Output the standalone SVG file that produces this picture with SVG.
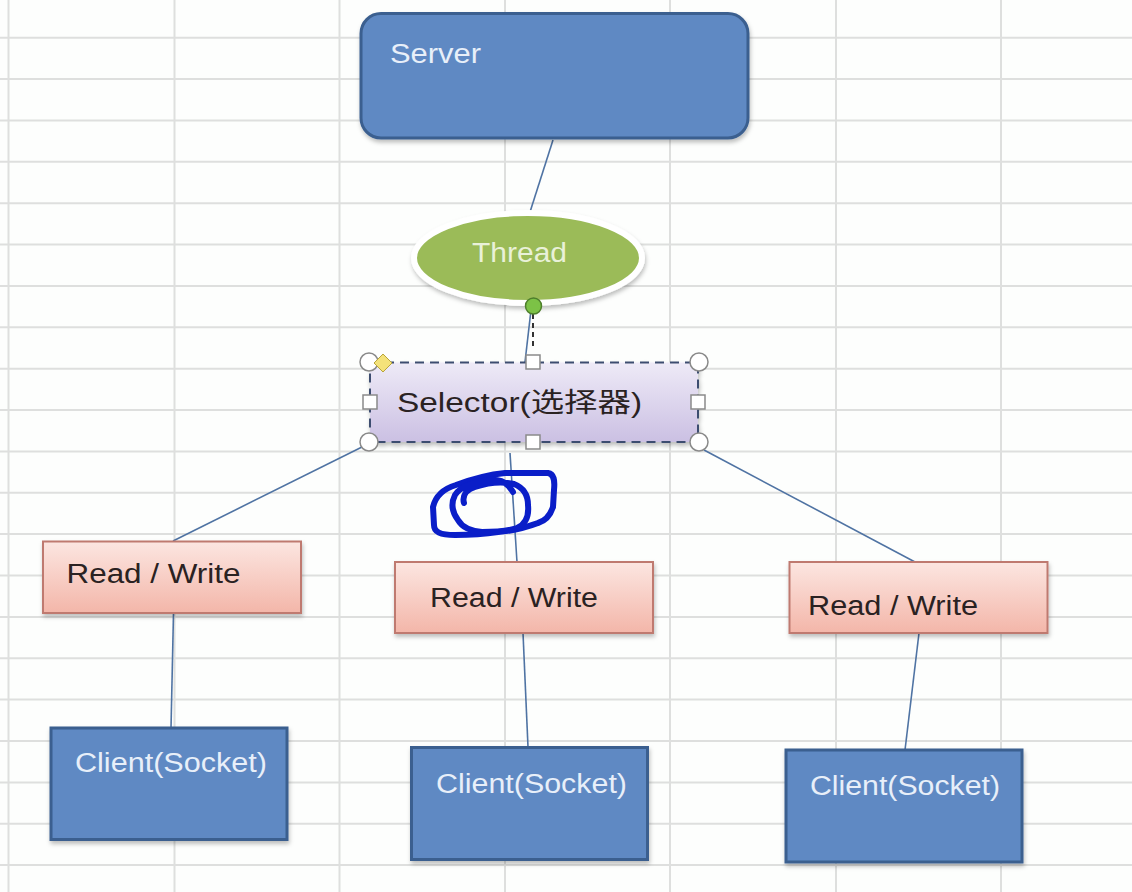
<svg xmlns="http://www.w3.org/2000/svg" width="1132" height="892" viewBox="0 0 1132 892">
<defs>
<style>
.grid line{stroke:#dedfde;stroke-width:2}
.blue{fill:#5f89c3;stroke:#3b5f8f;stroke-width:3}
.pink{fill:url(#pinkG);stroke:#bf7a70;stroke-width:2}
.conn{stroke:#4f73a3;stroke-width:1.6;fill:none}
.lt{font-family:"Liberation Sans",Arial,sans-serif;font-size:27px;fill:#e8eff9}
.dk{font-family:"Liberation Sans",Arial,sans-serif;font-size:27px;fill:#2a2222}
.hc{fill:#fff;stroke:#8a8a8a;stroke-width:1.5}
</style>
<linearGradient id="pinkG" x1="0" y1="0" x2="0" y2="1">
<stop offset="0" stop-color="#fce6e1"/>
<stop offset="1" stop-color="#f3b6a9"/>
</linearGradient>
<linearGradient id="lavG" x1="0" y1="0" x2="0" y2="1">
<stop offset="0" stop-color="#eeeaf7"/>
<stop offset="1" stop-color="#cbc0e3"/>
</linearGradient>
<filter id="sh" x="-10%" y="-10%" width="120%" height="130%">
<feDropShadow dx="1" dy="3" stdDeviation="2" flood-color="#000" flood-opacity="0.25"/>
</filter>
</defs>
<rect width="1132" height="892" fill="#fdfefd"/>
<g class="grid">
<line x1="8.5" y1="0" x2="8.5" y2="892"/>
<line x1="174.5" y1="0" x2="174.5" y2="892"/>
<line x1="339.5" y1="0" x2="339.5" y2="892"/>
<line x1="505" y1="0" x2="505" y2="892"/>
<line x1="670" y1="0" x2="670" y2="892"/>
<line x1="836" y1="0" x2="836" y2="892"/>
<line x1="1001" y1="0" x2="1001" y2="892"/>
<line x1="0" y1="37.7" x2="1132" y2="37.7"/>
<line x1="0" y1="79.1" x2="1132" y2="79.1"/>
<line x1="0" y1="120.4" x2="1132" y2="120.4"/>
<line x1="0" y1="161.8" x2="1132" y2="161.8"/>
<line x1="0" y1="203.2" x2="1132" y2="203.2"/>
<line x1="0" y1="244.5" x2="1132" y2="244.5"/>
<line x1="0" y1="285.9" x2="1132" y2="285.9"/>
<line x1="0" y1="327.3" x2="1132" y2="327.3"/>
<line x1="0" y1="368.7" x2="1132" y2="368.7"/>
<line x1="0" y1="410" x2="1132" y2="410"/>
<line x1="0" y1="451.4" x2="1132" y2="451.4"/>
<line x1="0" y1="492.8" x2="1132" y2="492.8"/>
<line x1="0" y1="534.1" x2="1132" y2="534.1"/>
<line x1="0" y1="575.5" x2="1132" y2="575.5"/>
<line x1="0" y1="616.9" x2="1132" y2="616.9"/>
<line x1="0" y1="658.2" x2="1132" y2="658.2"/>
<line x1="0" y1="699.6" x2="1132" y2="699.6"/>
<line x1="0" y1="741" x2="1132" y2="741"/>
<line x1="0" y1="782.4" x2="1132" y2="782.4"/>
<line x1="0" y1="823.7" x2="1132" y2="823.7"/>
<line x1="0" y1="865.1" x2="1132" y2="865.1"/>
</g>
<g id="connectors">
<line class="conn" x1="553" y1="140" x2="530" y2="212"/>
<line class="conn" x1="531" y1="310" x2="525" y2="362"/>
<line x1="533" y1="314" x2="533" y2="346" stroke="#333" stroke-width="2" stroke-dasharray="5,4"/>
<line class="conn" x1="362" y1="447" x2="173" y2="541"/>
<line class="conn" x1="704" y1="450" x2="915" y2="562"/>
<line class="conn" x1="510" y1="453" x2="517" y2="562"/>
<line class="conn" x1="173.5" y1="613" x2="171" y2="728"/>
<line class="conn" x1="523" y1="633" x2="528" y2="747"/>
<line class="conn" x1="919" y1="633" x2="905" y2="750"/>
</g>
<g id="server">
<rect class="blue" x="361" y="13.5" width="387" height="124.5" rx="20" filter="url(#sh)"/>
<text class="lt" x="390" y="63" textLength="91" lengthAdjust="spacingAndGlyphs">Server</text>
</g>
<g id="thread">
<ellipse cx="528" cy="258" rx="114" ry="45" fill="#9bbb59" stroke="#fff" stroke-width="6" filter="url(#sh)"/>
<text class="lt" x="472" y="262" textLength="95" lengthAdjust="spacingAndGlyphs" style="fill:#e9f1d8">Thread</text>
<circle cx="533.5" cy="306" r="8" fill="#7cc246" stroke="#4e7f2c" stroke-width="1.5"/>
</g>
<g id="selector">
<rect x="370" y="362.5" width="328" height="79.5" fill="url(#lavG)" stroke="#3e4e70" stroke-width="2" stroke-dasharray="9,6" filter="url(#sh)"/>
<text class="dk" x="397" y="412" textLength="245" lengthAdjust="spacingAndGlyphs" style="font-family:'Liberation Sans','Noto Sans CJK SC',sans-serif">Selector(选择器)</text>
<circle class="hc" cx="369" cy="362" r="9"/>
<circle class="hc" cx="699" cy="362" r="9"/>
<circle class="hc" cx="369" cy="442" r="9"/>
<circle class="hc" cx="699" cy="442" r="9"/>
<rect class="hc" x="526" y="355" width="14" height="14"/>
<rect class="hc" x="526" y="435" width="14" height="14"/>
<rect class="hc" x="363" y="395" width="14" height="14"/>
<rect class="hc" x="691" y="395" width="14" height="14"/>
<polygon points="383,354 392,363 383,372 374,363" fill="#f4e27a" stroke="#b8a43a" stroke-width="1"/>
</g>
<g id="scribble" fill="none" stroke="#0a1ec8" stroke-width="6" stroke-linecap="round" stroke-linejoin="round">
<path d="M433 507 C436 494 446 488 456 485 C475 478 495 474 505 473 L548 473 C554 474 555 480 554 490 L553 507 C550 516 545 521 538 523 C525 528 510 531 498 532 C485 534 470 535 455 535 C440 535 434 532 434 525 Z"/>
<path d="M464 503 C462 496 466 490 475 487 C490 482 505 482 514 484 C524 488 528 496 528 505 C529 515 526 524 517 528 C505 532 492 532 482 532 C470 531 462 527 458 520 C452 512 451 503 455 495 C460 487 472 482 490 480 C500 479 508 483 513 492"/>
</g>
<g id="rw1">
<rect class="pink" x="43" y="541.5" width="258" height="71.5" filter="url(#sh)"/>
<text class="dk" x="66.5" y="583" textLength="174" lengthAdjust="spacingAndGlyphs">Read / Write</text>
</g>
<g id="rw2">
<rect class="pink" x="395" y="562" width="258" height="71" filter="url(#sh)"/>
<text class="dk" x="430" y="607" textLength="168" lengthAdjust="spacingAndGlyphs">Read / Write</text>
</g>
<g id="rw3">
<rect class="pink" x="789.5" y="562" width="258" height="71" filter="url(#sh)"/>
<text class="dk" x="808" y="615" textLength="170" lengthAdjust="spacingAndGlyphs">Read / Write</text>
</g>
<g id="client1">
<rect class="blue" x="51" y="728" width="236" height="111.5" filter="url(#sh)"/>
<text class="lt" x="75" y="772" textLength="192" lengthAdjust="spacingAndGlyphs">Client(Socket)</text>
</g>
<g id="client2">
<rect class="blue" x="411.5" y="747.5" width="236" height="112" filter="url(#sh)"/>
<text class="lt" x="436" y="793" textLength="191" lengthAdjust="spacingAndGlyphs">Client(Socket)</text>
</g>
<g id="client3">
<rect class="blue" x="786" y="750" width="236" height="112" filter="url(#sh)"/>
<text class="lt" x="810" y="795" textLength="190" lengthAdjust="spacingAndGlyphs">Client(Socket)</text>
</g>
</svg>
